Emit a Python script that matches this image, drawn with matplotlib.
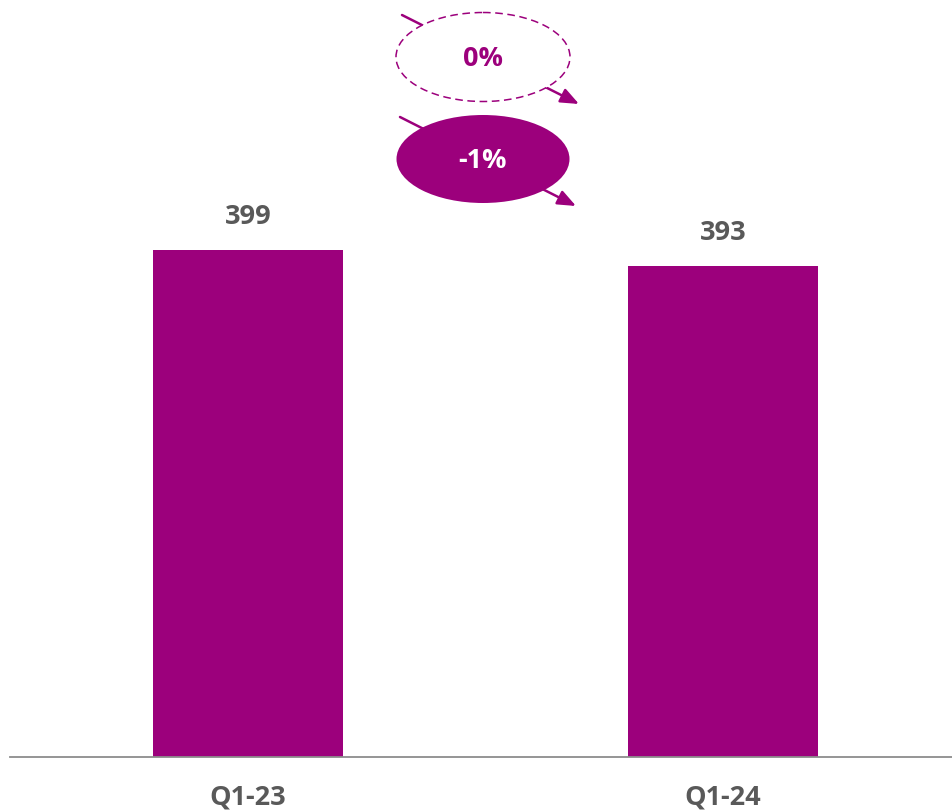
import matplotlib
matplotlib.use("Agg")
import matplotlib.pyplot as plt
from matplotlib.patches import Ellipse, FancyArrowPatch

categories = ["Q1-23", "Q1-24"]
values = [399, 393]
changes = ["0%", "-1%"]

PURPLE = "#9C007C"
GRAY = "#595959"
FONT = ["Open Sans", "DejaVu Sans"]

W, H = 953, 810
fig = plt.figure(figsize=(W / 100, H / 100), dpi=100)
ax = fig.add_axes([10 / W, (H - 757) / H, (W - 10) / W, 757 / H])

x = list(range(len(categories)))
ax.bar(x, values, width=0.4, color=PURPLE, zorder=2)
ax.set_xlim(-0.501, 1.484)
ax.set_ylim(209, 492.7)

for xi, v in zip(x, values):
    ax.text(xi, v + 7.5, f"{v}", ha="center", va="bottom", fontsize=19.5,
            fontweight="bold", color=GRAY, family=FONT)

ax.set_xticks(x)
ax.set_xticklabels(categories, fontsize=19.5, fontweight="bold", color=GRAY,
                   family=FONT)
ax.tick_params(axis="x", length=0, pad=20)
ax.set_yticks([])
for s in ["top", "right", "left"]:
    ax.spines[s].set_visible(False)
ax.spines["bottom"].set_color("#8C8C8C")
ax.spines["bottom"].set_linewidth(1.3)
ax.spines["bottom"].set_zorder(3)

# overlay in pixel coordinates for the change bubbles
ov = fig.add_axes([0, 0, 1, 1], facecolor="none")
ov.set_xlim(0, W)
ov.set_ylim(H, 0)
ov.axis("off")

bubbles = [
    dict(cx=483, cy=57, start=(402, 15), end=(579, 104), dashed=True),
    dict(cx=483, cy=159, start=(400, 117), end=(576, 206), dashed=False),
]
for b, txt in zip(bubbles, changes):
    arr = FancyArrowPatch(b["start"], b["end"],
                          arrowstyle="-|>,head_length=11,head_width=4.5",
                          color=PURPLE, lw=1.8, mutation_scale=1, zorder=1,
                          shrinkA=0, shrinkB=0)
    ov.add_patch(arr)
    if b["dashed"]:
        e = Ellipse((b["cx"], b["cy"]), 174, 89, facecolor="white",
                    edgecolor=PURPLE, lw=1.1, linestyle=(0, (5, 3)), zorder=2)
        tc = PURPLE
    else:
        e = Ellipse((b["cx"], b["cy"]), 173, 88, facecolor=PURPLE,
                    edgecolor="none", zorder=2)
        tc = "white"
    ov.add_patch(e)
    ov.text(b["cx"], b["cy"] + 2, txt, ha="center", va="center", fontsize=19.5,
            fontweight="bold", color=tc, family=FONT, zorder=3)

fig.savefig("out.png", dpi=100)
